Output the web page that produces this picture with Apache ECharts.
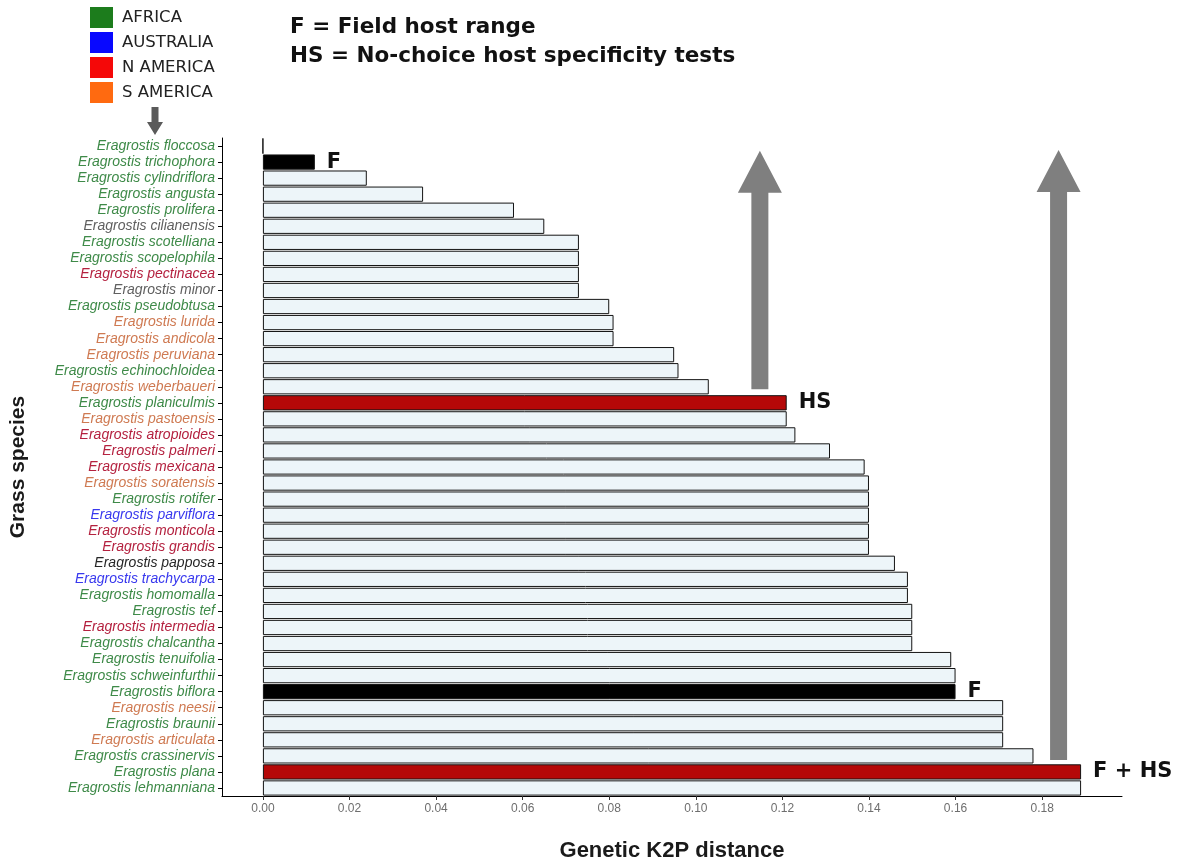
<!DOCTYPE html>
<html>
<head>
<meta charset="utf-8">
<script src="https://cdn.jsdelivr.net/npm/echarts@6/dist/echarts.min.js"></script>
<style>
  html, body { margin: 0; padding: 0; background: #fff; }
  #chart { width: 1190px; height: 861px; }
</style>
</head>
<body>
<div id="chart"></div>
<script>
// Grass species, top to bottom
const species = [
  'floccosa', 'trichophora', 'cylindriflora', 'angusta', 'prolifera', 'cilianensis',
  'scotelliana', 'scopelophila', 'pectinacea', 'minor', 'pseudobtusa', 'lurida',
  'andicola', 'peruviana', 'echinochloidea', 'weberbaueri', 'planiculmis', 'pastoensis',
  'atropioides', 'palmeri', 'mexicana', 'soratensis', 'rotifer', 'parviflora',
  'monticola', 'grandis', 'papposa', 'trachycarpa', 'homomalla', 'tef', 'intermedia',
  'chalcantha', 'tenuifolia', 'schweinfurthii', 'biflora', 'neesii', 'braunii',
  'articulata', 'crassinervis', 'plana', 'lehmanniana'
];

// Genetic K2P distance for each species
const distance = [
  0.000, 0.012, 0.024, 0.037, 0.058, 0.065,
  0.073, 0.073, 0.073, 0.073, 0.080, 0.081,
  0.081, 0.095, 0.096, 0.103, 0.121, 0.121,
  0.123, 0.131, 0.139, 0.140, 0.140, 0.140,
  0.140, 0.140, 0.146, 0.149, 0.149, 0.150, 0.150,
  0.150, 0.159, 0.160, 0.160, 0.171, 0.171,
  0.171, 0.178, 0.189, 0.189
];

// Native region of each species (AF, AU, NA, SA; CO = cosmopolitan, OT = other)
const region = [
  'AF', 'AF', 'AF', 'AF', 'AF', 'CO',
  'AF', 'AF', 'NA', 'CO', 'AF', 'SA',
  'SA', 'SA', 'AF', 'SA', 'AF', 'SA',
  'NA', 'NA', 'NA', 'SA', 'AF', 'AU',
  'NA', 'NA', 'OT', 'AU', 'AF', 'AF', 'NA',
  'AF', 'AF', 'AF', 'AF', 'SA', 'AF',
  'SA', 'AF', 'AF', 'AF'
];

// Host status: F = field host range, HS = no-choice host specificity tests
const hostStatus = [
  '', 'F', '', '', '', '',
  '', '', '', '', '', '',
  '', '', '', '', 'HS', '',
  '', '', '', '', '', '',
  '', '', '', '', '', '', '',
  '', '', '', 'F', '', '',
  '', '', 'F + HS', ''
];

const xTicks = [0, 0.02, 0.04, 0.06, 0.08, 0.10, 0.12, 0.14, 0.16, 0.18];

const legendRegions = ['AFRICA', 'AUSTRALIA', 'N AMERICA', 'S AMERICA'];
const legendColors = ['#1c7c1c', '#0808ff', '#f50808', '#ff6a10'];

const labelColors = {
  AF: '#3e8a48', AU: '#3838ee', NA: '#b4213f', SA: '#cf7a52', CO: '#606060', OT: '#262626'
};
const statusFill = { '': '#edf5f9', 'F': '#000000', 'HS': '#b50808', 'F + HS': '#b50808' };

// Upward arrows: x in data units, tip/base as fractional category positions
const arrows = [
  { x: 0.1148, tip: 0.3, base: 15.15 },
  { x: 0.1838, tip: 0.25, base: 38.25 }
];

const chart = echarts.init(document.getElementById('chart'), null, { renderer: 'canvas' });

const barData = distance.map((v, i) => ({
  value: v,
  itemStyle: { color: statusFill[hostStatus[i]] },
  label: hostStatus[i] ? {
    show: true, position: 'right', distance: 12, formatter: hostStatus[i],
    fontFamily: 'DejaVu Sans', fontWeight: 'bold', fontSize: 21, color: '#111'
  } : { show: false }
}));

const option = {
  animation: false,
  backgroundColor: '#ffffff',
  grid: { left: 222, right: 68, top: 138, bottom: 65, outerBoundsMode: 'none', containLabel: false },
  legend: {
    orient: 'vertical', left: 85, top: 2, itemWidth: 23, itemHeight: 21, itemGap: 4,
    icon: 'rect', selectedMode: false,
    textStyle: { fontFamily: 'DejaVu Sans', fontSize: 16.5, color: '#222', padding: [0, 0, 0, 4] },
    data: legendRegions
  },
  xAxis: {
    type: 'value', min: -0.00945, max: 0.19845,
    name: 'Genetic K2P distance', nameLocation: 'middle', nameGap: 44,
    nameTextStyle: { fontFamily: 'Liberation Sans', fontWeight: 'bold', fontSize: 22, color: '#1a1a1a' },
    axisLine: { show: true, onZero: false, lineStyle: { color: '#000', width: 1 } },
    axisTick: { show: true, customValues: xTicks, length: 4, lineStyle: { color: '#333' } },
    axisLabel: {
      customValues: xTicks, margin: 7, formatter: v => v.toFixed(2),
      fontFamily: 'Liberation Sans', fontSize: 12, color: '#6e6e6e'
    },
    splitLine: { show: false }
  },
  yAxis: {
    type: 'category', inverse: true, data: species,
    name: 'Grass species', nameLocation: 'middle', nameGap: 193, nameRotate: 90,
    nameTextStyle: { fontFamily: 'Liberation Sans', fontWeight: 'bold', fontSize: 21, color: '#1a1a1a' },
    axisLine: { show: true, onZero: false, lineStyle: { color: '#000', width: 1 } },
    axisTick: { show: true, length: 4, alignWithLabel: true, interval: 0, lineStyle: { color: '#000' } },
    axisLabel: {
      interval: 0, margin: 7, fontFamily: 'Liberation Sans', fontStyle: 'italic', fontSize: 14,
      formatter: s => 'Eragrostis ' + s,
      color: (val, idx) => labelColors[region[species.indexOf(val)]]
    },
    splitLine: { show: false }
  },
  series: [
    {
      type: 'bar', data: barData, barCategoryGap: '5%',
      itemStyle: { borderColor: '#141414', borderWidth: 1 }
    }
  ].concat(legendRegions.map((name, i) => ({
    type: 'scatter', name: name, data: [], itemStyle: { color: legendColors[i], opacity: 1 }
  }))),
  graphic: [
    {
      type: 'text', left: 290, top: 16,
      style: { text: 'F = Field host range', fontFamily: 'DejaVu Sans', fontWeight: 'bold', fontSize: 21.5, fill: '#111' }
    },
    {
      type: 'text', left: 290, top: 45,
      style: { text: 'HS = No-choice host specificity tests', fontFamily: 'DejaVu Sans', fontWeight: 'bold', fontSize: 21.5, fill: '#111' }
    },
    {
      type: 'polygon',
      shape: { points: [[151.5, 107], [158.5, 107], [158.5, 122], [163, 122], [155, 135], [147, 122], [151.5, 122]] },
      style: { fill: '#5a5a5a' }
    }
  ]
};

chart.setOption(option);

// Draw the grey arrows in data space
function catY(pos) {
  const y0 = chart.convertToPixel({ gridIndex: 0 }, [0, 0])[1];
  const y1 = chart.convertToPixel({ gridIndex: 0 }, [0, 1])[1];
  return y0 + (y1 - y0) * pos;
}
const arrowGraphics = arrows.map(a => {
  const cx = chart.convertToPixel({ gridIndex: 0 }, [a.x, 0])[0];
  const tipY = catY(a.tip);
  const baseY = catY(a.base);
  const shaftHalf = 8.5, headHalf = 22, headLen = 42;
  return {
    type: 'polygon',
    shape: {
      points: [
        [cx, tipY], [cx + headHalf, tipY + headLen], [cx + shaftHalf, tipY + headLen],
        [cx + shaftHalf, baseY], [cx - shaftHalf, baseY], [cx - shaftHalf, tipY + headLen],
        [cx - headHalf, tipY + headLen]
      ]
    },
    style: { fill: '#7f7f7f' },
    z: 10
  };
});
chart.setOption({ graphic: option.graphic.concat(arrowGraphics) });
</script>
</body>
</html>
